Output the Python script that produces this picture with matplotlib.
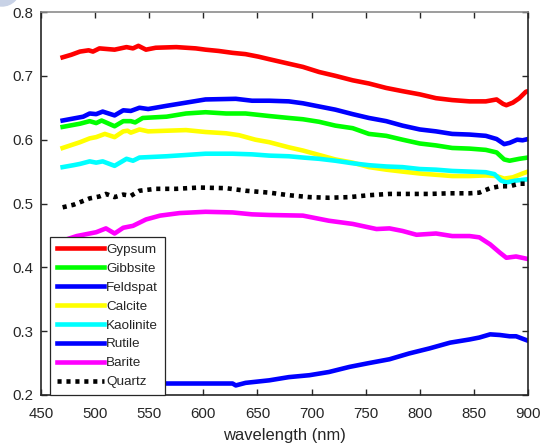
import matplotlib
matplotlib.use('Agg')
import matplotlib.pyplot as plt
from matplotlib.patches import Ellipse

plt.rcParams['font.family'] = ['Liberation Sans', 'DejaVu Sans']

# spectra (wavelength nm, reflectance)
gypsum_x = [470, 478, 486, 494, 498, 504, 518, 529, 535, 540, 547, 556, 575, 593, 602, 614, 627, 639, 651, 661,
            679, 692, 707, 722, 738, 753, 769, 784, 800, 815, 830, 846, 861, 871, 877, 880, 886, 892, 898, 900]
gypsum_y = [0.729, 0.733, 0.738, 0.740, 0.738, 0.743, 0.741, 0.745, 0.743, 0.747, 0.741, 0.744, 0.745, 0.743, 0.741,
            0.739, 0.736, 0.734, 0.730, 0.726, 0.719, 0.714, 0.706, 0.700, 0.693, 0.688, 0.681, 0.676, 0.671, 0.665,
            0.662, 0.660, 0.660, 0.663, 0.656, 0.654, 0.658, 0.665, 0.675, 0.676]

feldspat_x = [470, 489, 495, 501, 507, 518, 526, 533, 541, 549, 566, 584, 602, 630, 645, 661,
              679, 692, 707, 722, 738, 753, 769, 784, 800, 815, 830, 846, 861, 871, 878, 883, 890, 895, 900]
feldspat_y = [0.630, 0.636, 0.641, 0.640, 0.644, 0.638, 0.646, 0.645, 0.650, 0.648, 0.653, 0.658, 0.663, 0.664,
              0.661, 0.661, 0.660, 0.657, 0.652, 0.647, 0.640, 0.634, 0.629, 0.622, 0.616, 0.613, 0.609, 0.608,
              0.606, 0.601, 0.593, 0.595, 0.600, 0.599, 0.601]

gibbsite_x = [470, 486, 495, 501, 506, 518, 526, 533, 537, 544, 566, 584, 602, 621, 639, 661,
              679, 692, 707, 722, 738, 753, 769, 784, 800, 815, 830, 846, 861, 871, 878, 883, 892, 900]
gibbsite_y = [0.620, 0.625, 0.629, 0.626, 0.630, 0.621, 0.629, 0.629, 0.627, 0.634, 0.636, 0.641, 0.643, 0.641,
              0.641, 0.637, 0.634, 0.632, 0.628, 0.622, 0.618, 0.609, 0.606, 0.600, 0.594, 0.591, 0.587, 0.586,
              0.584, 0.580, 0.569, 0.567, 0.570, 0.572]

calcite_x = [470, 486, 495, 501, 509, 518, 526, 530, 533, 541, 549, 566, 584, 602, 621, 633, 648, 661,
             679, 692, 707, 722, 738, 753, 769, 784, 800, 815, 830, 846, 861, 871, 878, 886, 895, 900]
calcite_y = [0.587, 0.596, 0.602, 0.604, 0.609, 0.604, 0.613, 0.614, 0.611, 0.616, 0.613, 0.614, 0.615, 0.612,
             0.610, 0.607, 0.600, 0.596, 0.588, 0.583, 0.576, 0.569, 0.564, 0.557, 0.553, 0.550, 0.547, 0.545,
             0.543, 0.543, 0.544, 0.543, 0.539, 0.541, 0.547, 0.550]

kaolinite_x = [470, 480, 486, 495, 501, 507, 518, 529, 535, 541, 566, 584, 602, 627, 645, 661,
               679, 692, 707, 722, 738, 753, 769, 784, 800, 815, 830, 846, 861, 869, 875, 880, 889, 900]
kaolinite_y = [0.557, 0.560, 0.562, 0.566, 0.564, 0.566, 0.559, 0.570, 0.567, 0.572, 0.574, 0.576, 0.578, 0.578,
               0.577, 0.575, 0.574, 0.572, 0.570, 0.567, 0.563, 0.560, 0.558, 0.557, 0.554, 0.553, 0.551, 0.550,
               0.549, 0.546, 0.536, 0.533, 0.536, 0.538]

rutile_x = [470, 500, 530, 566, 596, 627, 630, 639, 661, 679, 698, 716, 735, 753, 772, 790, 809, 828,
            846, 855, 865, 874, 883, 889, 900]
rutile_y = [0.216, 0.217, 0.218, 0.218, 0.218, 0.218, 0.215, 0.219, 0.223, 0.228, 0.231, 0.236, 0.244, 0.250,
            0.256, 0.265, 0.273, 0.282, 0.287, 0.290, 0.295, 0.294, 0.292, 0.292, 0.285]

barite_x = [470, 474, 483, 492, 501, 510, 518, 526, 535, 547, 560, 578, 602, 627, 645, 661, 692, 716, 738,
            760, 772, 784, 797, 815, 830, 846, 855, 865, 874, 880, 889, 900]
barite_y = [0.440, 0.444, 0.449, 0.452, 0.455, 0.461, 0.453, 0.462, 0.465, 0.475, 0.481, 0.485, 0.487, 0.486,
            0.483, 0.482, 0.481, 0.473, 0.468, 0.460, 0.461, 0.457, 0.451, 0.453, 0.449, 0.449, 0.447, 0.436,
            0.423, 0.415, 0.417, 0.413]

quartz_x = [470, 480, 495, 504, 510, 518, 526, 533, 541, 556, 575, 596, 621, 639, 661, 679, 698, 716, 735,
            753, 772, 790, 809, 828, 846, 855, 865, 874, 883, 892, 900]
quartz_y = [0.494, 0.498, 0.508, 0.511, 0.515, 0.510, 0.514, 0.512, 0.520, 0.523, 0.523, 0.525, 0.524, 0.520,
            0.517, 0.513, 0.510, 0.509, 0.510, 0.513, 0.515, 0.515, 0.515, 0.516, 0.516, 0.517, 0.524, 0.527,
            0.527, 0.531, 0.531]

fig = plt.figure(figsize=(5.4, 4.46), dpi=100)
ax = fig.add_axes([41 / 540, 51 / 446, 487 / 540, 383 / 446])

lw = 3.3
ax.plot(gypsum_x, gypsum_y, color='#ff0000', lw=lw, label='Gypsum')
ax.plot(gibbsite_x, gibbsite_y, color='#00ff00', lw=lw, label='Gibbsite')
ax.plot(feldspat_x, feldspat_y, color='#0000ff', lw=lw, label='Feldspat')
ax.plot(calcite_x, calcite_y, color='#ffff00', lw=lw, label='Calcite')
ax.plot(kaolinite_x, kaolinite_y, color='#00ffff', lw=lw, label='Kaolinite')
ax.plot(rutile_x, rutile_y, color='#0000ff', lw=lw, label='Rutile')
ax.plot(barite_x, barite_y, color='#ff00ff', lw=lw, label='Barite')
ax.plot(quartz_x, quartz_y, color='black', lw=lw, ls=(0, (0.9, 1.05)), label='Quartz')

ax.set_xlim(450, 900)
ax.set_ylim(0.2, 0.8)
ax.set_xticks(range(450, 901, 50))
ax.set_yticks([0.2, 0.3, 0.4, 0.5, 0.6, 0.7, 0.8])
ax.set_yticklabels(['0.2', '0.3', '0.4', '0.5', '0.6', '0.7', '0.8'])
ax.tick_params(direction='in', top=True, right=True, length=4, width=1,
               color='#262626', labelcolor='#262626', labelsize=10.8)
ax.tick_params(axis='x', pad=8.5)
ax.tick_params(axis='y', pad=5.5)
ax.set_xlabel('wavelength (nm)', fontsize=11.9, color='#262626', labelpad=5)
for s in ['left', 'bottom', 'right']:
  ax.spines[s].set_color('#262626')
  ax.spines[s].set_linewidth(1.2)
ax.spines['top'].set_color('#8c8c8c')
ax.spines['top'].set_linewidth(1.2)

leg = ax.legend(loc='lower left', bbox_to_anchor=(9 / 487, 0), borderaxespad=0,
                fontsize=9.7, handlelength=3.5, handletextpad=0.15, labelspacing=0.48,
                borderpad=0.5, fancybox=False, framealpha=1)
leg.get_frame().set_edgecolor('#262626')
leg.get_frame().set_linewidth(0.9)
for t in leg.get_texts():
  t.set_color('#262626')

fig.add_artist(Ellipse((2 / 540, 1 + 12 / 446), 36 / 540, 36 / 446,
                       transform=fig.transFigure, color='#c8d2e6', clip_on=False))

fig.savefig('out.png', dpi=100)
